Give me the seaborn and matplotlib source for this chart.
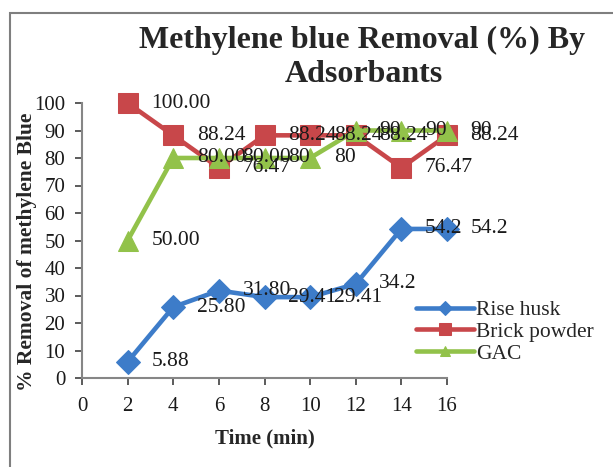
import matplotlib
matplotlib.use("Agg")
import matplotlib.pyplot as plt
import seaborn as sns
import pandas as pd
from matplotlib.patches import Rectangle

time_min = [2, 4, 6, 8, 10, 12, 14, 16]
rise_husk = [5.88, 25.80, 31.80, 29.41, 29.41, 34.2, 54.2, 54.2]
brick_powder = [100.00, 88.24, 76.47, 88.24, 88.24, 88.24, 76.47, 88.24]
gac = [50.00, 80.00, 80.00, 80, 80, 90, 90, 90]
rise_labels = ["5.88", "25.80", "31.80", "29.41", "29.41", "34.2", "54.2", "54.2"]
brick_labels = ["100.00", "88.24", "76.47", "88.24", "88.24", "88.24", "76.47", "88.24"]
gac_labels = ["50.00", "80.00", "80.00", "80", "80", "90", "90", "90"]
series_names = ["Rise husk", "Brick powder", "GAC"]
x_ticks = [0, 2, 4, 6, 8, 10, 12, 14, 16]
y_ticks = [0, 10, 20, 30, 40, 50, 60, 70, 80, 90, 100]

colors = {"Rise husk": "#3D7CC9", "Brick powder": "#C8474A", "GAC": "#92C24A"}
markers = {"Rise husk": "D", "Brick powder": "s", "GAC": "^"}
msizes = {"Rise husk": 12.5, "Brick powder": 15, "GAC": 14}

sns.set_style("white")
plt.rcParams['font.family'] = ['Liberation Serif', 'DejaVu Serif']

df = pd.concat([
    pd.DataFrame({"Time": time_min, "Removal": vals, "Series": name})
    for name, vals in zip(series_names, [rise_husk, brick_powder, gac])
], ignore_index=True)

fig = plt.figure(figsize=(6.13, 4.67), dpi=100)
ax = fig.add_axes([82/613, 1-378/467, (447-82)/613, (378-103)/467])

for name in series_names:
    sub = df[df["Series"] == name]
    sns.lineplot(data=sub, x="Time", y="Removal", ax=ax, color=colors[name],
                 marker=markers[name], markersize=msizes[name], linewidth=3.3,
                 markeredgecolor=colors[name], label=name, sort=False, clip_on=False)

for vals, labs in zip([rise_husk, brick_powder, gac], [rise_labels, brick_labels, gac_labels]):
    for xv, yv, lab in zip(time_min, vals, labs):
        ax.annotate(lab, (xv, yv), xytext=(17, 0), textcoords="offset points",
                    ha="left", va="center", fontsize=15.5, color="#1a1a1a", zorder=10,
                    annotation_clip=False)

ax.set_xlim(0, 16)
ax.set_ylim(0, 100)
ax.set_xticks(x_ticks)
ax.set_yticks(y_ticks)
ax.tick_params(axis="both", labelsize=15, colors="#404040", length=5, direction="out",
               width=1.2, left=True, bottom=True)
ax.tick_params(axis="x", pad=9)
ax.tick_params(axis="y", pad=7)
for t in ax.get_xticklabels() + ax.get_yticklabels():
    t.set_color("#1a1a1a")
for s in ["top", "right"]:
    ax.spines[s].set_visible(False)
for s in ["left", "bottom"]:
    ax.spines[s].set_color("#868686")
    ax.spines[s].set_linewidth(1.5)
for line in ax.xaxis.get_ticklines() + ax.yaxis.get_ticklines():
    line.set_color("#868686")

ax.set_xlabel("Time (min)", fontsize=15, fontweight="bold")
ax.set_ylabel("% Removal of methylene Blue", fontsize=15.5, fontweight="bold")
ax.xaxis.set_label_coords(0.5, -0.182)
ax.yaxis.set_label_coords(-0.123, 0.46)

fig.text(362/613, 1-40/467, "Methylene blue Removal (%) By", ha="center", va="center",
         fontsize=23, fontweight="bold")
fig.text(364/613, 1-74/467, "Adsorbants", ha="center", va="center",
         fontsize=23, fontweight="bold")

ax.legend(loc="upper left", bbox_to_anchor=(416/613, 1-300/467), bbox_transform=fig.transFigure,
          frameon=False, fontsize=15.5, handlelength=2.7, handletextpad=0.1,
          labelspacing=0.08, borderpad=0, borderaxespad=0, markerscale=0.55)

fig.add_artist(Rectangle((10/613, -0.2), 1.2, 1.2 - 13/467, transform=fig.transFigure,
                         fill=False, edgecolor="#7f7f7f", linewidth=1.5))

fig.savefig("out.png", dpi=100)
